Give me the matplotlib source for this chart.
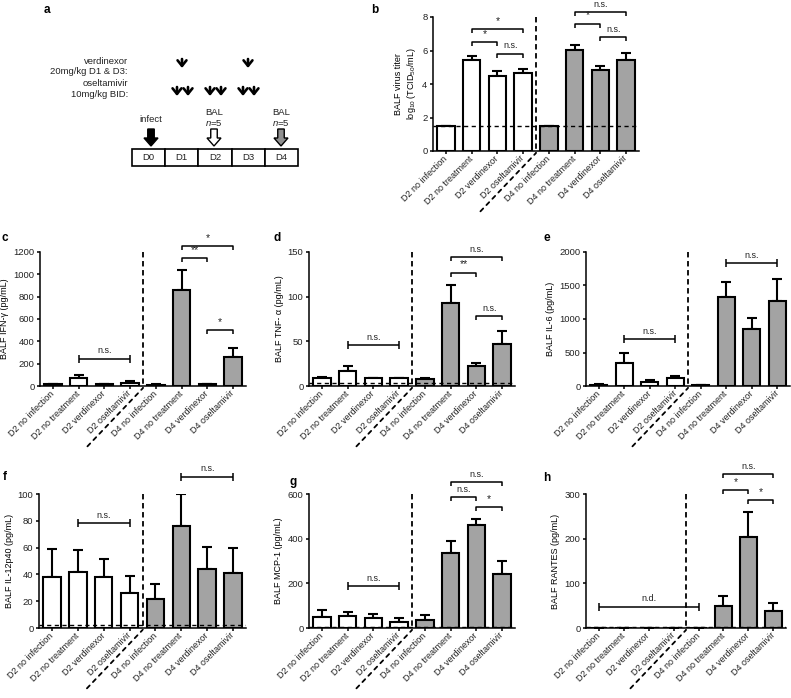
import numpy as np
import matplotlib
matplotlib.use("Agg")
import matplotlib.pyplot as plt
from matplotlib import patches

plt.rcParams['font.family'] = ['Liberation Sans', 'DejaVu Sans']
plt.rcParams['mathtext.fontset'] = 'custom'
plt.rcParams['mathtext.rm'] = 'Liberation Sans'
plt.rcParams['mathtext.it'] = 'Liberation Sans:italic'
plt.rcParams['axes.linewidth'] = 1.1
plt.rcParams['xtick.major.width'] = 1.1
plt.rcParams['ytick.major.width'] = 1.1
plt.rcParams['xtick.major.size'] = 2.5
plt.rcParams['ytick.major.size'] = 2.5
plt.rcParams['xtick.major.pad'] = 2
plt.rcParams['ytick.major.pad'] = 1.5
plt.rcParams['text.color'] = '#222222'
plt.rcParams['xtick.labelcolor'] = '#222222'
plt.rcParams['ytick.labelcolor'] = '#222222'

groups = ["D2 no infection", "D2 no treatment", "D2 verdinexor", "D2 oseltamivir",
          "D4 no infection", "D4 no treatment", "D4 verdinexor", "D4 oseltamivir"]

# b: virus titer (log10 TCID50/mL)
titer_mean = [1.5, 5.45, 4.5, 4.65, 1.5, 6.05, 4.85, 5.45]
titer_err = [0, 0.22, 0.25, 0.22, 0, 0.3, 0.2, 0.42]
# c: IFN-gamma
ifng_mean = [15, 72, 15, 30, 12, 858, 15, 263]
ifng_err = [6, 30, 5, 12, 4, 180, 5, 78]
# d: TNF-alpha
tnfa_mean = [9, 17, 9, 9, 8, 93, 22, 47]
tnfa_err = [1, 5, 0.5, 0.5, 0.5, 20, 4, 15]
# e: IL-6
il6_mean = [15, 343, 65, 114, 8, 1323, 851, 1264]
il6_err = [10, 150, 30, 40, 3, 230, 170, 328]
# f: IL-12p40
il12_mean = [37.8, 42, 37.8, 26.1, 21.4, 76.4, 44.3, 40.8]
il12_err = [21.4, 16.2, 13.9, 12.7, 11.2, 23.6, 16.1, 18.7]
# g: MCP-1
mcp1_mean = [51, 52, 45, 28, 34, 337, 460, 240]
mcp1_err = [28, 21, 18, 17, 23, 51, 28, 61]
# h: RANTES
rantes_mean = [0, 0, 0, 0, 0, 48.6, 203, 37.4]
rantes_err = [0, 0, 0, 0, 0, 23, 57, 19.4]

# significance brackets: (from, to, y, text, style)
titer_sig = [(1, 3, 7.26, "*", "down"), (1, 2, 6.5, "*", "down"), (2, 3, 5.8, "n.s.", "down"),
             (5, 7, 8.3, "n.s.", "down"), (5, 6, 7.6, "*", "down"), (6, 7, 6.8, "n.s.", "down")]
ifng_sig = [(1, 3, 245, "n.s.", "bar"), (5, 7, 1254, "*", "down"), (5, 6, 1143, "**", "down"),
            (6, 7, 500, "*", "down")]
tnfa_sig = [(1, 3, 45.5, "n.s.", "bar"), (5, 7, 144, "n.s.", "down"), (5, 6, 127, "**", "down"),
            (6, 7, 78, "n.s.", "down")]
il6_sig = [(1, 3, 697, "n.s.", "bar"), (5, 7, 1836, "n.s.", "bar")]
il12_sig = [(1, 3, 78.4, "n.s.", "bar"), (5, 7, 113, "n.s.", "bar")]
mcp1_sig = [(1, 3, 187, "n.s.", "bar"), (5, 7, 652, "n.s.", "down"), (5, 6, 587, "n.s.", "down"),
            (6, 7, 542, "*", "down")]
rantes_sig = [(0, 4, 48, "n.d.", "bar"), (5, 7, 345, "n.s.", "down"), (5, 6, 309, "*", "down"),
              (6, 7, 286, "*", "down")]

W, H = 791, 698
fig = plt.figure(figsize=(W / 100, H / 100), dpi=100)


def px_axes(x0, y0, x1, y1):
    return fig.add_axes([x0 / W, 1 - y1 / H, (x1 - x0) / W, (y1 - y0) / H])


def bracket(ax, i, j, y, label, style, ymax):
    h = 0.03 * ymax
    kw = dict(color='black', lw=1.1, clip_on=False, solid_capstyle='butt')
    if style == "down":
        ax.plot([i, i, j, j], [y - h, y, y, y - h], **kw)
    else:
        ax.plot([i, j], [y, y], **kw)
        ax.plot([i, i], [y - h, y + h], **kw)
        ax.plot([j, j], [y - h, y + h], **kw)
    fs = 7.5 if "*" in label else 6.5
    ax.text((i + j) / 2, y + 0.025 * ymax, label, ha='center', va='bottom', fontsize=fs)


def bar_panel(ax, mean, err, ymax, step, ylabel, sig, lod=None):
    x = np.arange(len(groups))
    colors = ['white'] * 4 + ['#a3a3a3'] * 4
    ax.errorbar(x, mean, yerr=[np.zeros(len(err)), err], fmt='none', ecolor='black',
                elinewidth=1.5, capsize=3.5, capthick=1.5, zorder=1)
    ax.bar(x, mean, width=0.68, color=colors, edgecolor='black', linewidth=1.5, zorder=2)
    if lod is not None:
        ax.axhline(lod, color='black', ls=(0, (3, 2.5)), lw=1.0, zorder=3)
    ax.set_xlim(-0.5, 7.5)
    ax.set_ylim(0, ymax)
    ax.set_yticks(np.arange(0, ymax + step / 2, step))
    ax.set_xticks(x)
    ax.set_xticklabels(groups, rotation=45, ha='right', va='center', rotation_mode='anchor',
                       fontsize=6.5)
    ax.tick_params(axis='y', labelsize=6.8)
    ax.set_ylabel(ylabel, fontsize=6.5, labelpad=3)
    for s in ['top', 'right']:
        ax.spines[s].set_visible(False)
    # day separator
    ax.plot([3.5, 3.5], [1.0, -0.015], transform=ax.get_xaxis_transform(), color='black',
            ls=(0, (3, 2)), lw=1.3, clip_on=False, zorder=4)
    ax.annotate('', xy=(3.5, -0.015), xycoords=('data', 'axes fraction'), xytext=(-40, -42),
                textcoords='offset points',
                arrowprops=dict(arrowstyle='-', ls=(0, (2.2, 2.6)), lw=1.3, color='black',
                                shrinkA=0, shrinkB=0))
    for i, j, y, label, style in sig:
        bracket(ax, i, j, y, label, style, ymax)


# panel a: dosing timeline
axa = px_axes(0, 0, 375, 230)
axa.set_xlim(0, 375)
axa.set_ylim(230, 0)
axa.axis('off')
tkw = dict(fontsize=6.8)
axa.text(128, 61, "verdinexor", ha='right', va='center', **tkw)
axa.text(128, 71.5, "20mg/kg D1 & D3:", ha='right', va='center', **tkw)
axa.text(128, 84, "oseltamivir", ha='right', va='center', **tkw)
axa.text(128, 94.5, "10mg/kg BID:", ha='right', va='center', **tkw)
small = dict(arrowstyle='->, head_length=0.4, head_width=0.32', lw=1.9, color='black',
             shrinkA=0, shrinkB=0)
for xa in [182, 248]:
    axa.annotate('', xy=(xa, 68), xytext=(xa, 59), arrowprops=small)
for xa in [177, 188, 210, 221, 243, 254]:
    axa.annotate('', xy=(xa, 96), xytext=(xa, 87), arrowprops=small)
for xa, fc in [(151, 'black'), (214, 'white'), (281, '#909090')]:
    axa.add_patch(patches.FancyArrow(xa, 129, 0, 17, width=6.5, head_width=14, head_length=8,
                                     length_includes_head=True, fc=fc, ec='black', lw=1.0))
axa.text(151, 120, "infect", ha='center', va='center', **tkw)
for xa in [214, 281]:
    axa.text(xa, 112.5, "BAL", ha='center', va='center', **tkw)
    axa.text(xa, 123.5, "$n$=5", ha='center', va='center', **tkw)
days = ["D0", "D1", "D2", "D3", "D4"]
for k, d in enumerate(days):
    x0 = 132 + k * 33.2
    axa.add_patch(patches.Rectangle((x0, 149), 33.2, 17, fc='white', ec='black', lw=1.2))
    axa.text(x0 + 16.6, 157.5, d, ha='center', va='center', **tkw)

axb = px_axes(433, 17, 639, 151)
bar_panel(axb, titer_mean, titer_err, 8, 2,
          "BALF virus titer\nlog$_{10}$ (TCID$_{50}$/mL)", titer_sig, lod=1.5)

axc = px_axes(40, 252, 246, 386)
bar_panel(axc, ifng_mean, ifng_err, 1200, 200, "BALF IFN-γ (pg/mL)", ifng_sig)

axd = px_axes(309, 252, 515, 386)
bar_panel(axd, tnfa_mean, tnfa_err, 150, 50, "BALF TNF- α (pg/mL)", tnfa_sig, lod=3.5)

axe = px_axes(586, 252, 790, 386)
bar_panel(axe, il6_mean, il6_err, 2000, 500, "BALF IL-6 (pg/mL)", il6_sig)

axf = px_axes(39, 494, 246, 628)
bar_panel(axf, il12_mean, il12_err, 100, 20, "BALF IL-12p40 (pg/mL)", il12_sig, lod=2.5)

axg = px_axes(309, 494, 515, 628)
bar_panel(axg, mcp1_mean, mcp1_err, 600, 200, "BALF MCP-1 (pg/mL)", mcp1_sig, lod=4)

axh = px_axes(586, 494, 786, 628)
bar_panel(axh, rantes_mean, rantes_err, 300, 100, "BALF RANTES (pg/mL)", rantes_sig, lod=3)

for lab, (lx, ly) in zip("abcdefgh", [(47, 10), (375, 10), (5, 238), (277, 238), (547, 238),
                                      (5, 477), (293, 482), (547, 478)]):
    fig.text(lx / W, 1 - ly / H, lab, fontsize=8.5, fontweight='bold', ha='center', va='center',
             color='black')

fig.savefig("out.png", dpi=100)
